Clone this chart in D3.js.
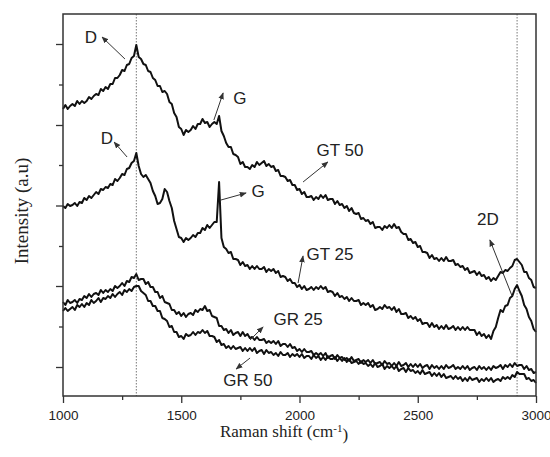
<!DOCTYPE html>
<html>
<head>
<meta charset="utf-8">
<script src="https://cdn.jsdelivr.net/npm/d3@7"></script>
<style>
  html, body { margin: 0; padding: 0; background: #fff; }
  svg { display: block; }
  .tick text { font-family: "Liberation Sans", Arial, sans-serif; font-size: 13.5px; fill: #222; }
  .axisTitle { font-family: "Liberation Serif", "Times New Roman", serif; fill: #222; }
  .note { font-family: "Liberation Sans", Arial, sans-serif; font-size: 17px; fill: #222; }
</style>
</head>
<body>
<div id="chart"></div>
<script>

// Raman shift grid (cm-1)
var shift = [
  1000,1010,1020,1030,1040,1050,1060,1070,1080,1090,
  1100,1110,1120,1130,1140,1150,1160,1170,1180,1190,
  1200,1210,1220,1230,1240,1250,1260,1270,1280,1290,
  1300,1310,1320,1330,1340,1350,1360,1370,1380,1390,
  1400,1410,1420,1430,1440,1450,1460,1470,1480,1490,
  1500,1510,1520,1530,1540,1550,1560,1570,1580,1590,
  1600,1610,1620,1630,1640,1650,1660,1670,1680,1690,
  1700,1710,1720,1730,1740,1750,1760,1770,1780,1790,
  1800,1810,1820,1830,1840,1850,1860,1870,1880,1890,
  1900,1910,1920,1930,1940,1950,1960,1970,1980,1990,
  2000,2010,2020,2030,2040,2050,2060,2070,2080,2090,
  2100,2110,2120,2130,2140,2150,2160,2170,2180,2190,
  2200,2210,2220,2230,2240,2250,2260,2270,2280,2290,
  2300,2310,2320,2330,2340,2350,2360,2370,2380,2390,
  2400,2410,2420,2430,2440,2450,2460,2470,2480,2490,
  2500,2510,2520,2530,2540,2550,2560,2570,2580,2590,
  2600,2610,2620,2630,2640,2650,2660,2670,2680,2690,
  2700,2710,2720,2730,2740,2750,2760,2770,2780,2790,
  2800,2810,2820,2830,2840,2850,2860,2870,2880,2890,
  2900,2910,2920,2930,2940,2950,2960,2970,2980,2990,
  3000
];

// intensities (a.u., stacked offsets as in the figure)
var gt50 = [
  291,295,291,294,296,294,299,296,299,297,
  299,303,301,304,306,305,311,309,313,311,
  316,316,322,322,325,330,329,335,336,342,
  344,355,343,341,336,335,329,328,322,320,
  314,314,308,309,306,298,296,287,283,273,
  271,265,270,268,270,274,271,276,276,281,
  277,278,273,276,278,276,284,269,264,257,
  253,253,246,245,243,236,238,233,233,231,
  235,233,238,235,237,239,234,236,233,234,
  229,230,224,224,223,219,220,215,215,210,
  211,206,208,203,203,204,200,203,201,205,
  202,205,200,201,201,196,199,195,196,192,
  194,189,192,187,186,187,181,182,179,180,
  176,178,172,173,173,170,174,172,175,172,
  176,172,173,168,166,166,160,161,157,158,
  153,154,148,148,147,142,145,141,142,139,
  142,139,143,139,139,140,135,136,133,134,
  130,132,127,128,129,125,128,124,125,121,
  123,119,122,120,124,128,127,130,129,132,
  134,140,141,138,135,128,128,122,120,113,
  112
];

var gt25 = [
  194,192,196,194,195,197,194,198,197,202,
  200,204,202,205,208,206,211,210,213,212,
  216,215,221,219,222,226,225,231,232,237,
  239,247,234,226,223,225,221,217,209,204,
  196,197,201,211,208,199,192,179,171,163,
  162,158,162,160,162,165,163,167,167,172,
  170,175,172,175,178,178,218,162,153,151,
  147,148,141,141,140,135,138,134,135,131,
  134,131,134,131,131,133,128,131,129,131,
  127,129,123,124,123,119,121,117,117,113,
  115,111,114,110,111,113,110,113,111,114,
  111,113,108,109,108,104,107,103,104,101,
  103,99,102,99,99,100,95,97,95,97,
  93,95,90,91,93,91,95,92,93,90,
  93,88,91,86,86,87,82,84,81,83,
  79,81,76,77,77,73,77,73,75,71,
  74,71,75,71,72,74,70,73,70,73,
  70,73,70,70,70,65,68,64,66,62,
  65,61,69,73,82,90,88,94,95,102,
  104,111,115,109,104,95,91,83,79,71,
  68
];

var gr25 = [
  98,95,100,97,98,100,97,101,100,104,
  102,106,103,106,107,105,110,107,110,108,
  111,109,114,112,114,117,114,119,118,123,
  122,126,120,121,121,116,118,113,113,108,
  108,102,104,98,97,96,90,90,86,88,
  84,87,83,86,87,85,90,88,91,90,
  94,89,90,84,83,82,74,74,70,71,
  67,70,65,67,68,64,68,64,66,62,
  63,60,63,60,60,61,57,59,57,59,
  56,59,54,56,56,53,56,52,53,49,
  51,48,51,48,48,49,45,47,45,47,
  44,47,42,44,45,41,45,42,43,40,
  42,39,43,39,40,41,37,40,38,40,
  37,40,36,37,38,35,39,36,37,34,
  37,34,38,34,35,37,33,36,33,36,
  33,36,32,34,35,31,35,32,34,31,
  34,31,35,32,33,35,31,33,31,34,
  31,34,30,32,33,30,34,31,33,30,
  33,30,34,32,33,35,31,35,33,36,
  33,37,34,35,35,31,34,30,31,27,
  28
];

var gr50 = [
  89,92,89,91,93,90,95,93,96,93,
  97,95,100,97,99,102,98,102,101,104,
  102,106,103,106,108,105,110,108,111,109,
  113,114,114,109,107,105,99,99,94,94,
  89,89,82,81,79,73,74,68,68,63,
  64,61,66,64,65,68,65,68,67,70,
  67,69,64,64,63,58,60,55,56,52,
  54,51,54,51,52,53,49,52,49,52,
  49,52,47,49,50,46,50,47,48,45,
  47,44,48,45,45,47,43,46,44,46,
  43,46,42,44,44,41,45,42,44,40,
  43,40,44,41,41,43,39,42,39,42,
  38,41,37,38,39,36,39,36,37,34,
  36,33,37,33,34,36,31,34,32,34,
  31,34,29,31,32,28,32,29,30,27,
  29,26,30,26,27,28,24,27,24,27,
  23,26,22,23,24,21,24,21,23,19,
  22,19,23,20,21,22,18,21,19,22,
  19,22,18,20,21,19,23,21,23,21,
  25,23,28,26,26,26,21,22,19,20,
  17
];

var series = [gt50, gt25, gr25, gr50];

// axis ticks
var xTicks = [1000, 1500, 2000, 2500, 3000];
var xMinor = [1250, 1750, 2250, 2750];
var yTicks = [33, 114, 194.5, 275, 356];
var yMinor = [73.5, 154, 235, 315.5];

// dotted guides at D and 2D bands
var guides = [1310, 2920];

// annotations: label text, label position, arrow start / end (data units)
var noteText  = ["D", "G", "D", "G", "GT 50", "GT 25", "2D", "GR 25", "GR 50"];
var noteX     = [1118, 1748, 1186, 1825, 2171, 2129, 2797, 1994, 1782];
var noteY     = [363, 302, 262, 209, 250, 146, 181, 81, 20];
var arrowX0   = [1262, 1638, 1271, 1668, 2015, 1994, 2899, 1791, 1791];
var arrowY0   = [341, 280, 243, 200, 218, 117, 104, 60, 42];
var arrowX1   = [1165, 1677, 1216, 1774, 2120, 2015, 2805, 1846, 1732];
var arrowY1   = [363, 307, 258, 207, 238, 144, 160, 73, 31];

var width = 550, height = 457;
var margin = {top: 14, right: 14, bottom: 61, left: 63};

var svg = d3.select("#chart").append("svg")
  .attr("width", width)
  .attr("height", height);

var x = d3.scaleLinear().domain([1000, 3000]).range([margin.left, width - margin.right]);
var y = d3.scaleLinear().domain([4, 386]).range([height - margin.bottom, margin.top]);

var defs = svg.append("defs");
defs.append("marker")
  .attr("id", "head")
  .attr("viewBox", "0 0 10 10")
  .attr("refX", 9).attr("refY", 5)
  .attr("markerWidth", 7).attr("markerHeight", 7)
  .attr("orient", "auto")
  .append("path")
  .attr("d", "M0,1L10,5L0,9z")
  .style("fill", "#333");

// dotted guides
svg.append("g").selectAll("line")
  .data(guides)
  .enter().append("line")
  .attr("x1", function(d){ return x(d); })
  .attr("x2", function(d){ return x(d); })
  .attr("y1", y(386)).attr("y2", y(4))
  .style("stroke", "#777")
  .style("stroke-width", 1)
  .style("stroke-dasharray", "1.5,1.5");

// spectra
var line = d3.line()
  .x(function(d, i){ return x(shift[i]); })
  .y(function(d){ return y(d); });

svg.append("g").selectAll("path")
  .data(series)
  .enter().append("path")
  .attr("d", line)
  .style("fill", "none")
  .style("stroke", "#111")
  .style("stroke-width", 2)
  .style("stroke-linejoin", "round");

// axes
svg.append("g")
  .attr("transform", "translate(0," + y(4) + ")")
  .call(d3.axisBottom(x).tickValues(xTicks).tickSize(7).tickPadding(7)
    .tickFormat(d3.format("d")).tickSizeOuter(0));

svg.append("g")
  .attr("transform", "translate(0," + y(4) + ")")
  .call(d3.axisBottom(x).tickValues(xMinor).tickSize(4).tickFormat("").tickSizeOuter(0));

svg.append("g")
  .attr("transform", "translate(" + x(1000) + ",0)")
  .call(d3.axisLeft(y).tickValues(yTicks).tickSize(7).tickFormat("").tickSizeOuter(0));

svg.append("g")
  .attr("transform", "translate(" + x(1000) + ",0)")
  .call(d3.axisLeft(y).tickValues(yMinor).tickSize(4).tickFormat("").tickSizeOuter(0));

svg.selectAll(".domain").remove();
svg.selectAll(".tick line").style("stroke", "#333").style("stroke-width", 1.3);

// frame
svg.append("rect")
  .attr("x", x(1000))
  .attr("y", y(386))
  .attr("width", x(3000) - x(1000))
  .attr("height", y(4) - y(386))
  .style("fill", "none")
  .style("stroke", "#333")
  .style("stroke-width", 1.5);

// annotations
var notes = svg.append("g").selectAll("g")
  .data(noteText)
  .enter().append("g");

notes.append("line")
  .attr("x1", function(d, i){ return x(arrowX0[i]); })
  .attr("y1", function(d, i){ return y(arrowY0[i]); })
  .attr("x2", function(d, i){ return x(arrowX1[i]); })
  .attr("y2", function(d, i){ return y(arrowY1[i]); })
  .style("stroke", "#333")
  .style("stroke-width", 1)
  .attr("marker-end", "url(#head)");

notes.append("text")
  .attr("class", "note")
  .attr("x", function(d, i){ return x(noteX[i]); })
  .attr("y", function(d, i){ return y(noteY[i]); })
  .attr("dy", "0.36em")
  .attr("text-anchor", "middle")
  .text(function(d){ return d; });

// axis titles
var xt = svg.append("text")
  .attr("class", "axisTitle")
  .attr("x", 284)
  .attr("y", 437)
  .attr("text-anchor", "middle")
  .style("font-size", "17px");
xt.append("tspan").text("Raman shift (cm");
xt.append("tspan").attr("dy", "-0.45em").style("font-size", "11px").text("-1");
xt.append("tspan").attr("dy", "0.45em").text(")");

svg.append("text")
  .attr("class", "axisTitle")
  .attr("transform", "translate(28,211) rotate(-90)")
  .attr("text-anchor", "middle")
  .style("font-size", "19px")
  .text("Intensity (a.u)");

</script>
</body>
</html>
